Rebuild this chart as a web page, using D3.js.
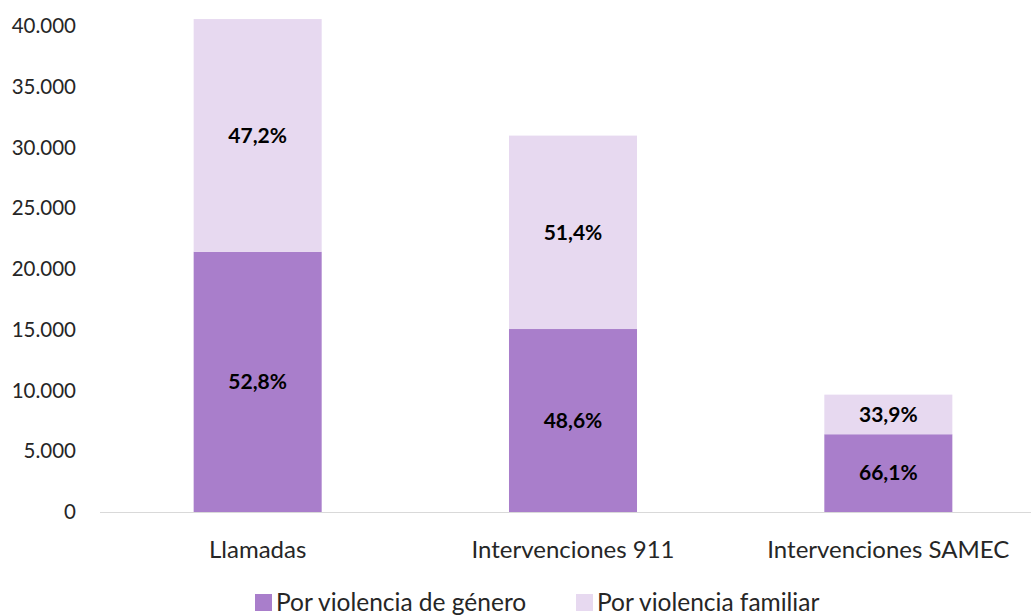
<!DOCTYPE html>
<html>
<head>
<meta charset="utf-8">
<script src="https://cdn.jsdelivr.net/npm/d3@7/dist/d3.min.js"></script>
<style>
  html, body { margin: 0; padding: 0; background: #fff; }
  svg { display: block; font-family: Lato, "Open Sans", sans-serif; }
</style>
</head>
<body>
<svg id="chart" width="1034" height="615"></svg>
<script>
const categories = ["Llamadas", "Intervenciones 911", "Intervenciones SAMEC"];
const seriesNames = ["Por violencia de género", "Por violencia familiar"];
const genero = [21420, 15060, 6400];
const familiar = [19150, 15920, 3260];
const pctGenero = ["52,8%", "48,6%", "66,1%"];
const pctFamiliar = ["47,2%", "51,4%", "33,9%"];
const yTicks = [0, 5000, 10000, 15000, 20000, 25000, 30000, 35000, 40000];
const yTickLabels = ["0", "5.000", "10.000", "15.000", "20.000", "25.000", "30.000", "35.000", "40.000"];
const colors = ["#A97ECB", "#E7D9F0"];

const svg = d3.select("#chart");
const x = d3.scaleBand().domain(categories).range([100, 1046]).paddingInner(0.594).paddingOuter(0.297);
const y = d3.scaleLinear().domain([0, 40000]).range([512, 26]);

const rows = categories.map((c, i) => ({cat: c, genero: genero[i], familiar: familiar[i], i}));
const stack = d3.stack().keys(["genero", "familiar"])(rows);

// axis baseline
svg.append("line").attr("x1", 100).attr("x2", 1031).attr("y1", y(0) + 0.5).attr("y2", y(0) + 0.5)
  .attr("stroke", "#d9d9d9").attr("stroke-width", 1.2);

// y tick labels
const yAxis = d3.axisLeft(y).tickValues(yTicks).tickFormat((d, i) => yTickLabels[i]).tickSize(0).tickPadding(0);
const ya = svg.append("g").attr("transform", "translate(76,0)").call(yAxis);
ya.select(".domain").remove();
ya.selectAll("text").attr("font-size", 20.5).attr("fill", "#262626").attr("font-family", "Lato, 'Open Sans', sans-serif");

// bars
stack.forEach((layer, k) => {
  svg.append("g").selectAll("rect").data(layer).join("rect")
    .attr("x", d => x(d.data.cat))
    .attr("width", x.bandwidth())
    .attr("y", d => y(d[1]))
    .attr("height", d => y(d[0]) - y(d[1]))
    .attr("fill", colors[k]);
});

// labels
const pcts = [pctGenero, pctFamiliar];
stack.forEach((layer, k) => {
  svg.append("g").selectAll("text").data(layer).join("text")
    .attr("x", d => x(d.data.cat) + x.bandwidth() / 2)
    .attr("y", d => (y(d[0]) + y(d[1])) / 2)
    .attr("dy", "0.35em")
    .attr("text-anchor", "middle")
    .attr("font-size", 21).attr("font-weight", "bold").attr("fill", "#000")
    .text(d => pcts[k][d.data.i]);
});

// x labels
const xAxis = d3.axisBottom(x).tickSize(0).tickPadding(0);
const xa = svg.append("g").attr("transform", "translate(0,541)").call(xAxis);
xa.select(".domain").remove();
xa.selectAll("text").attr("font-size", 24).attr("fill", "#262626").attr("font-family", "Lato, 'Open Sans', sans-serif");

// legend
const legendX = [255, 576];
seriesNames.forEach((name, k) => {
  const g = svg.append("g").attr("transform", `translate(${legendX[k]},602)`);
  g.append("rect").attr("x", 0).attr("y", -8).attr("width", 17).attr("height", 17).attr("fill", colors[k]);
  g.append("text").attr("x", 21).attr("y", 0).attr("dy", "0.35em")
    .attr("font-size", 24.5).attr("fill", "#262626").text(name);
});
</script>
</body>
</html>
